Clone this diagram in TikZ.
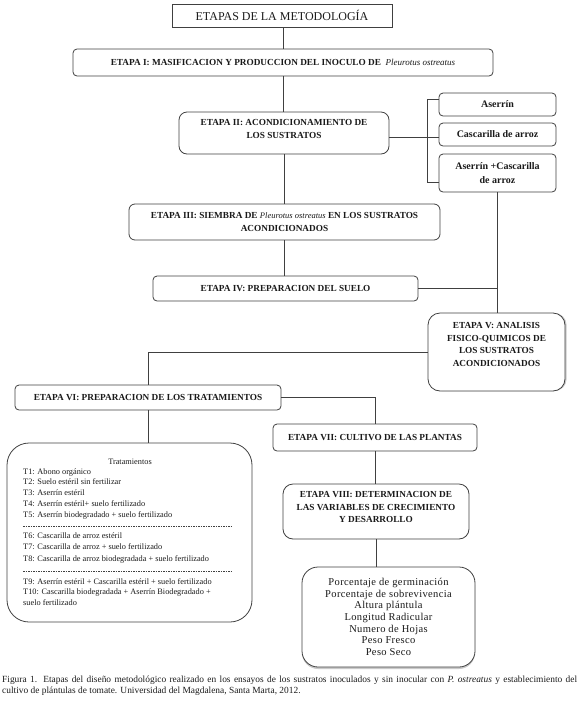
\documentclass[tikz,border=0pt]{standalone}
\usepackage{fontspec}
\setmainfont{Liberation Serif}
\usetikzlibrary{shadows}
\definecolor{lc}{HTML}{404040}
\definecolor{tc}{HTML}{1A1A1A}
\newcommand{\upby}[2]{\begin{tabular}{@{}c@{}}#2\\[#1]\end{tabular}}
\begin{document}
\begin{tikzpicture}[x=1pt,y=-1pt,
  bx/.style={draw=lc, line width=0.8pt, rounded corners=#1, fill=white, inner sep=0pt, align=center, text=tc, font=\bfseries\fontsize{9.25}{13}\selectfont},
  bx/.default=4pt,
  sidebox/.style={bx=4pt, minimum width=117pt, font=\bfseries\fontsize{10}{14}\selectfont},
  conn/.style={draw=lc, line width=0.8pt},
  body/.style={inner sep=0pt, text=tc, font=\fontsize{8.3}{10.8}\selectfont},
  sep/.style={draw=lc, line width=0.5pt, dash pattern=on 1.5pt off 1pt}]
\useasboundingbox (0,0) rectangle (580,716);

% boxes
\node[draw=lc, line width=0.8pt, inner sep=0pt, minimum width=220pt, minimum height=23pt, text=tc, font=\fontsize{12}{14}\selectfont] (title) at (282,15.5) {ETAPAS DE LA METODOLOGÍA};
\node[bx, minimum width=420pt, minimum height=27pt] (e1) at (283,62.5) {ETAPA I: MASIFICACION Y PRODUCCION DEL INOCULO DE\ \ {\mdseries\itshape\fontsize{9}{13}\selectfont Pleurotus ostreatus}};
\node[bx=8pt, minimum width=210pt, minimum height=42pt] (e2) at (284,133) {\upby{8pt}{ETAPA II: ACONDICIONAMIENTO DE\\LOS SUSTRATOS}};
\node[sidebox, minimum height=23pt] (a1) at (497.5,104.5) {Aserrín};
\node[sidebox, minimum height=23pt] (a2) at (497.5,134.5) {Cascarilla de arroz};
\node[sidebox, minimum height=38pt] (a3) at (497.5,173) {Aserrín +Cascarilla\\de arroz};
\node[bx=6pt, minimum width=311pt, minimum height=36pt] (e3) at (284.5,222) {ETAPA III: SIEMBRA DE {\mdseries\itshape\fontsize{8.5}{13}\selectfont Pleurotus ostreatus} EN LOS SUSTRATOS\\ACONDICIONADOS};
\node[bx, minimum width=265pt, minimum height=25pt] (e4) at (285.5,288.5) {ETAPA IV: PREPARACION DEL SUELO};
\node[bx=12pt, minimum width=137pt, minimum height=78pt, font=\bfseries\fontsize{9.25}{12.7}\selectfont, drop shadow={shadow xshift=1.6pt, shadow yshift=0pt, fill=gray!70, opacity=0.6}] (e5) at (496.5,352) {\upby{14pt}{ETAPA V: ANALISIS\\FISICO-QUIMICOS DE\\LOS SUSTRATOS\\ACONDICIONADOS}};
\node[bx, minimum width=266pt, minimum height=25pt] (e6) at (148,397.5) {ETAPA VI: PREPARACION DE LOS TRATAMIENTOS};
\node[bx, minimum width=204pt, minimum height=27pt] (e7) at (375,437.5) {ETAPA VII: CULTIVO DE LAS PLANTAS};
\node[bx=10pt, minimum width=186pt, minimum height=55pt, font=\bfseries\fontsize{9.25}{12.5}\selectfont] (e8) at (376,511.5) {\upby{8pt}{ETAPA VIII: DETERMINACION DE\\LAS VARIABLES DE CRECIMIENTO\\Y DESARROLLO}};
\node[draw=lc, line width=0.8pt, rounded corners=22pt, minimum width=245pt, minimum height=179pt, inner sep=0pt] (trat) at (129.5,532.5) {};
\node[draw=lc, line width=0.8pt, rounded corners=16pt, minimum width=173pt, minimum height=100pt, inner sep=0pt, fill=white, align=center, text=tc, font=\fontsize{10.5}{11.67}\selectfont\addfontfeature{LetterSpace=3.5}, drop shadow={shadow xshift=0pt, shadow yshift=-2pt, fill=gray!70, opacity=0.6}] (vars) at (388.5,617) {Porcentaje de germinación\\Porcentaje de sobrevivencia\\Altura plántula\\Longitud Radicular\\Numero de Hojas\\Peso Fresco\\Peso Seco};

% connectors
\coordinate (bt) at (427,99);
\coordinate (bb) at (427,182);
\coordinate (m2) at (0,137);
\draw[conn] (e1.north |- title.south) -- (e1.north);
\draw[conn] (e1.south) -- (e1.south |- e2.north);
\draw[conn] (e2.south) -- (e2.south |- e3.north);
\draw[conn] (e3.south) -- (e3.south |- e4.north);
\draw[conn] (a1.west |- bt) -- (bt) -- (bb) -- (a3.west |- bb);
\draw[conn] (e2.east |- m2) -- (a2.west |- m2);
\draw[conn] (a3.south) -- (a3.south |- e5.north);
\draw[conn] (e4.east) -- (e4.east -| a3.south);
\draw[conn] (e5.west) -| (e6.north);
\draw[conn] (e6.east) -| (e7.north);
\draw[conn] (e6.south) -- (e6.south |- trat.north);
\draw[conn] (e7.south) -- (e7.south |- e8.north);
\draw[conn] (e8.south) -- (e8.south |- vars.north);

% treatments text
\node[body, anchor=base] (trh) at (130,464) {Tratamientos};
\node[body, anchor=base west] (t1) at (23,474) {T1: Abono orgánico};
\node[body, anchor=base west] (t2) at (23,484.75) {T2: Suelo estéril sin fertilizar};
\node[body, anchor=base west] (t3) at (23,495.5) {T3: Aserrín estéril};
\node[body, anchor=base west] (t4) at (23,506.25) {T4: Aserrín estéril+ suelo fertilizado};
\node[body, anchor=base west] (t5) at (23,517) {T5: Aserrín biodegradado + suelo fertilizado};
\node[body, anchor=base west] (t6) at (23,538) {T6: Cascarilla de arroz estéril};
\node[body, anchor=base west] (t7) at (23,549.5) {T7: Cascarilla de arroz + suelo fertilizado};
\node[body, anchor=base west] (t8) at (23,561) {T8: Cascarilla de arroz biodegradada + suelo fertilizado};
\node[body, anchor=base west] (t9) at (23,584) {T9: Aserrín estéril + Cascarilla estéril + suelo fertilizado};
\node[body, anchor=base west] (t10) at (23,594.5) {T10: Cascarilla biodegradada + Aserrín Biodegradado +};
\node[body, anchor=base west] (t11) at (23,605) {suelo fertilizado};
\coordinate (s1a) at (23,526); \coordinate (s1b) at (232,526);
\coordinate (s2a) at (23,571); \coordinate (s2b) at (232,571);
\draw[sep] (s1a) -- (s1b);
\draw[sep] (s2a) -- (s2b);

% caption
\node[anchor=base west, inner sep=0pt, text=tc, font=\fontsize{9.4}{11}\selectfont] (cap1) at (2,682) {\makebox[575pt][s]{Figura 1. Etapas del diseño metodológico realizado en los ensayos de los sustratos inoculados y sin inocular con \textit{P. ostreatus} y establecimiento del}};
\node[anchor=base west, inner sep=0pt, text=tc, font=\fontsize{9.4}{11}\selectfont] (cap2) at (2,693) {cultivo de plántulas de tomate. Universidad del Magdalena, Santa Marta, 2012.};
\end{tikzpicture}
\end{document}
